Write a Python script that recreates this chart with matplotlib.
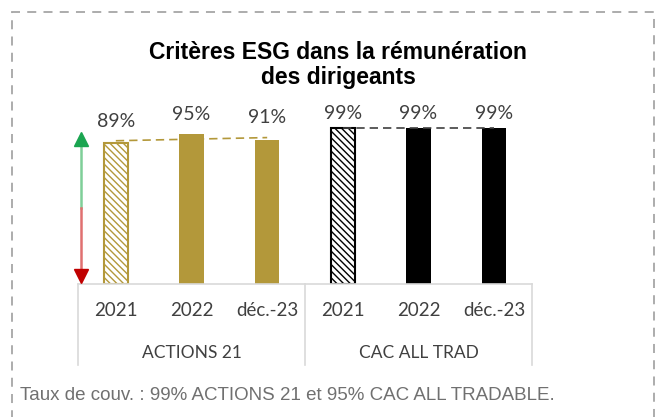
import numpy as np
import matplotlib.pyplot as plt
from matplotlib.lines import Line2D
from matplotlib.patches import Rectangle

W, H = 661, 417

# données
years = ["2021", "2022", "déc.-23"]
groups = ["ACTIONS 21", "CAC ALL TRAD"]
actions21 = [0.89, 0.95, 0.91]
cac_all = [0.99, 0.99, 0.99]
footnote = "Taux de couv. : 99% ACTIONS 21 et 95% CAC ALL TRADABLE."
title = "Critères ESG dans la rémunération\ndes dirigeants"

GOLD = "#b3983a"
GRID = "#d9d9d9"
TXT = "#404040"


def fx(x):
    return x / W


def fy(y):
    return 1 - y / H


fig = plt.figure(figsize=(W / 100, H / 100), dpi=100)

# zone des barres (en pixels : x 78 -> 532, base y=284, 100% = 158 px)
ax = fig.add_axes([fx(78), fy(284), fx(532) - fx(78), 158 / H])
ax.set_xlim(-0.5, 5.5)
ax.set_ylim(0, 1)
ax.axis("off")

values = actions21 + cac_all
xs = np.arange(len(values))
bw = 0.32
faces = ["white", GOLD, GOLD, "white", "black", "black"]
edges = [GOLD, GOLD, GOLD, "black", "black", "black"]
hatches = ["\\\\\\\\\\", None, None, "\\\\\\\\\\", None, None]
label_dy = [16, 14, 16, 10, 10, 10]  # décalage des étiquettes (points)
for x, v, fc, ec, h, dy in zip(xs, values, faces, edges, hatches, label_dy):
    ax.bar(x, v, width=bw, color=fc, edgecolor=ec, hatch=h,
           linewidth=1.5 if h else 0, zorder=3)
    ax.annotate(f"{v:.0%}", (x, v), xytext=(0, dy), textcoords="offset points",
                ha="center", va="center", fontsize=14, color=TXT,
                family="Lato", annotation_clip=False)

# courbes de tendance (linéaires)
for sl, col in [(slice(0, 3), GOLD), (slice(3, 6), "#404040")]:
    xx = xs[sl]
    p = np.polyfit(xx, values[sl], 1)
    ax.plot(xx, np.polyval(p, xx), ls=(0, (5, 3)), color=col, lw=1.2,
            zorder=4, clip_on=False)

# cadre des catégories
for x in [78, 305, 532]:
    fig.add_artist(Line2D([fx(x)] * 2, [fy(284), fy(365)], color=GRID, lw=1.2))
fig.add_artist(Line2D([fx(78), fx(532)], [fy(284)] * 2, color=GRID, lw=1.2))

for i, yl in enumerate(years * 2):
    fig.text(fx(78 + 75.67 * (i + 0.5)), fy(311), yl, ha="center", va="center",
             fontsize=13.5, color=TXT, family="Lato")
for i, g in enumerate(groups):
    fig.text(fx(78 + 227 * (i + 0.5)), fy(353), g, ha="center", va="center",
             fontsize=12.5, color=TXT, family="Lato")

# flèche verte / rouge
fig.add_artist(Line2D([fx(81)] * 2, [fy(138), fy(208)], color="#7fcf98", lw=1.8))
fig.add_artist(Line2D([fx(81)] * 2, [fy(208), fy(276)], color="#e07070", lw=1.8))
fig.add_artist(Line2D([fx(81)], [fy(139)], marker="^", color="#1aa550",
                      markersize=10, lw=0))
fig.add_artist(Line2D([fx(81)], [fy(276)], marker="v", color="#c00000",
                      markersize=10, lw=0))

# titre
fig.text(fx(338), fy(65), title, ha="center", va="center", fontsize=16.5,
         fontweight="bold", family="Liberation Sans", color="black",
         linespacing=1.15)

# note
fig.text(fx(20), fy(395), footnote, ha="left", va="center", fontsize=13.5,
         family="Liberation Sans", color="#707070")

# bordure pointillée
fig.add_artist(Rectangle((fx(12), fy(430)), fx(654) - fx(12), fy(12) - fy(430),
                         fill=False, edgecolor="#a6a6a6", lw=1.3,
                         ls=(0, (5, 4)), transform=fig.transFigure))

fig.savefig("out.png", dpi=100)
